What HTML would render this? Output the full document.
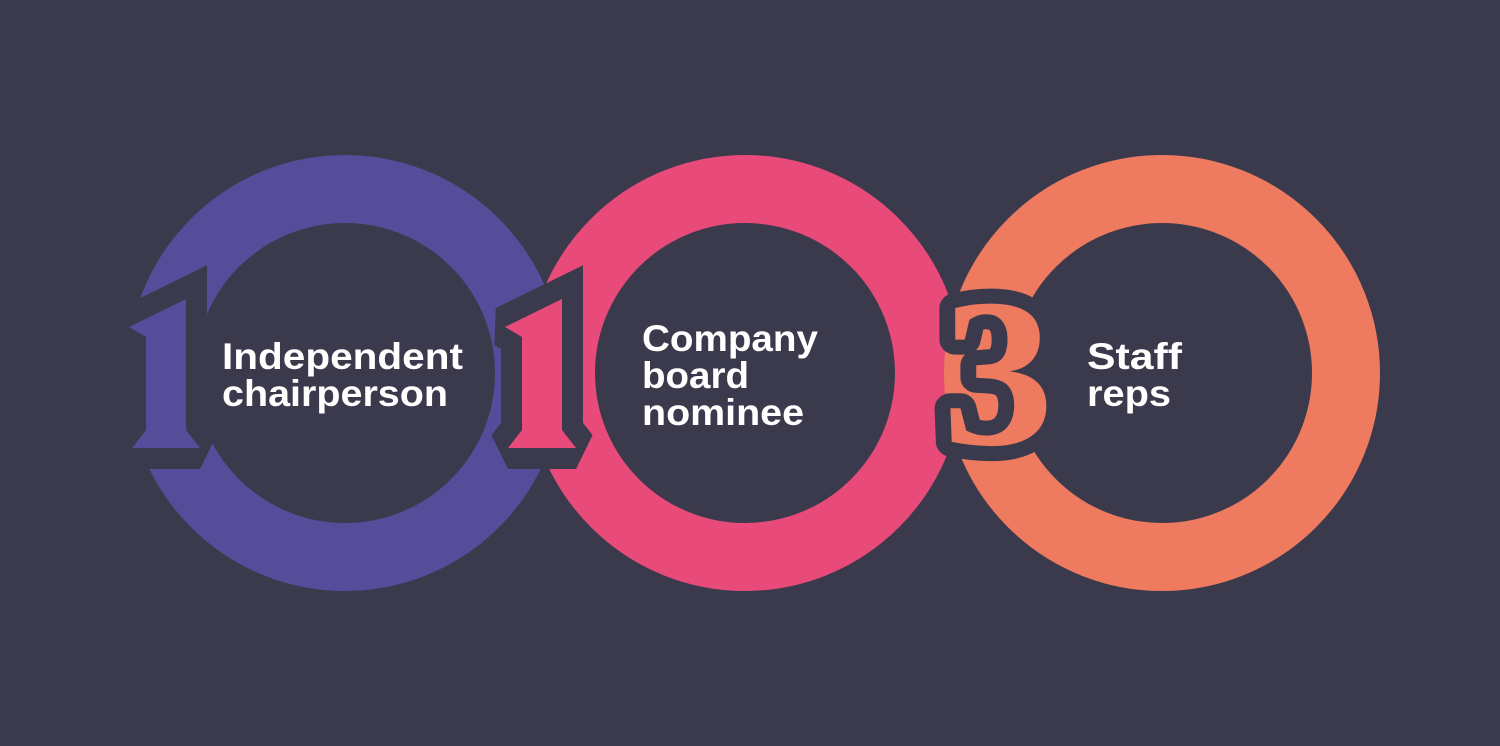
<!DOCTYPE html>
<html><head><style>html,body{margin:0;padding:0;background:#3b3a4c}svg{display:block}</style></head>
<body>
<svg width="1500" height="746" viewBox="0 0 1500 746" xmlns="http://www.w3.org/2000/svg">
<rect width="1500" height="746" fill="#3b3a4c"/>
<circle cx="345" cy="373" r="184" fill="none" stroke="#554c9a" stroke-width="68"/>
<circle cx="745" cy="373" r="184" fill="none" stroke="#e84a7a" stroke-width="68"/>
<circle cx="1162" cy="373" r="184" fill="none" stroke="#ee7a5f" stroke-width="68"/>
<g stroke="#3b3a4c" stroke-width="42" stroke-linejoin="miter" stroke-miterlimit="2" paint-order="stroke">
<polygon fill="#554c9a" points="129,327 186,299 186,430 200,448 132,448 146,430 146,337"/>
<polygon fill="#e84a7a" points="505,327 562,299 562,430 576,448 508,448 522,430 522,337"/>
</g>
<text x="942" y="444" font-family="Liberation Serif, serif" font-weight="bold" font-size="212" fill="#ee7a5f" stroke="#3b3a4c" stroke-width="30" stroke-linejoin="round" paint-order="stroke" textLength="112" lengthAdjust="spacingAndGlyphs">3</text>
<g font-family="Liberation Sans, sans-serif" font-weight="bold" font-size="37" fill="#fff">
<text x="222" y="369" textLength="241" lengthAdjust="spacingAndGlyphs">Independent</text>
<text x="222" y="406" textLength="226" lengthAdjust="spacingAndGlyphs">chairperson</text>
<text x="642" y="351" textLength="176" lengthAdjust="spacingAndGlyphs">Company</text>
<text x="642" y="388" textLength="107" lengthAdjust="spacingAndGlyphs">board</text>
<text x="642" y="425" textLength="162" lengthAdjust="spacingAndGlyphs">nominee</text>
<text x="1087" y="369" textLength="95" lengthAdjust="spacingAndGlyphs">Staff</text>
<text x="1087" y="406" textLength="84" lengthAdjust="spacingAndGlyphs">reps</text>
</g>
</svg>
</body></html>
